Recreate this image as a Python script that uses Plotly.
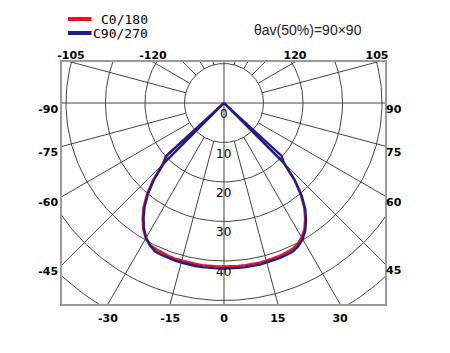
import numpy as np
import plotly.graph_objects as go

# ---------------- data ----------------
gamma = [0, 2.5, 5, 7.5, 10, 12.5, 15, 17.5, 20, 22.5, 25, 27.5, 30,
         32.5, 35, 37.5, 40, 42.5, 45, 47.5, 50]
# C0/180 plane (red): C0 drawn on the right, C180 on the left
c0 = [41.4, 41.4, 41.4, 41.4, 41.4, 41.4, 41.3, 41.3, 41.2, 41.0, 40.8, 40.3, 39.3,
      37.9, 35.8, 33.4, 30.2, 26.3, 21.2, 0.0, 0.0]
c180 = [41.4, 41.4, 41.4, 41.4, 41.4, 41.4, 41.3, 41.3, 41.2, 41.0, 40.8, 40.5, 39.6,
        38.0, 35.9, 33.5, 30.4, 26.7, 22.0, 20.0, 0.0]
# C90/270 plane (blue): C90 on the right, C270 on the left
c90 = [41.9, 41.9, 41.9, 41.9, 41.9, 41.9, 41.8, 41.8, 41.7, 41.6, 41.4, 40.8, 39.8,
       38.3, 36.2, 33.8, 30.6, 26.6, 21.5, 0.0, 0.0]
c270 = [41.9, 41.9, 41.9, 41.9, 41.9, 41.9, 41.8, 41.8, 41.7, 41.6, 41.4, 40.6, 39.4,
        37.7, 35.5, 33.0, 29.9, 26.2, 21.5, 0.0, 0.0]
# second blue cut-off edge near the apex (both sides)
edge_gamma = [45, 47.5, 50]
edge_r = [21.5, 19.8, 0.0]

ring_values = [10, 20, 30, 40, 50, 60, 70]
ring_label_values = [0, 10, 20, 30, 40]
spoke_angles = list(range(0, 360, 15))
bottom_ticks = [-30, -15, 0, 15, 30]
left_ticks = [-90, -75, -60, -45]
right_ticks = [90, 75, 60, 45]
top_ticks = [-105, -120, 120, 105]

series_names = ["C0/180", "C90/270"]
note_text = "θav(50%)=90×90"

# ---------------- style / layout ----------------
W, H = 450, 353
ML, MR, MT, MB = 62, 65, 62, 49
XMIN, XMAX = -41.01, 40.76
YMIN, YMAX = -50.89, 10.38
RED = "#ee1122"
BLUE = "#1f1d8c"
GRID = "#444444"
FRAME = "#9a9a9a"


def pol(g, r):
    g = np.radians(np.asarray(g, dtype=float))
    r = np.asarray(r, dtype=float)
    return r * np.sin(g), -r * np.cos(g)


def curve(g, left_vals, right_vals):
    g_left = [-a for a in g][::-1]
    r_left = list(left_vals)[::-1]
    return pol(g_left + list(g), r_left + list(right_vals))


fig = go.Figure()

# rings
t = np.linspace(0, 2 * np.pi, 361)
rx, ry = [], []
for r in ring_values:
    rx += list(r * np.cos(t)) + [None]
    ry += list(r * np.sin(t)) + [None]
fig.add_trace(go.Scatter(x=rx, y=ry, mode="lines", line=dict(color=GRID, width=1),
                         hoverinfo="skip", showlegend=False))

# spokes
sx, sy = [], []
for a in spoke_angles:
    r0 = 0 if a % 90 == 0 else ring_values[0]
    x0, y0 = pol(a, r0)
    x1, y1 = pol(a, 90)
    sx += [float(x0), float(x1), None]
    sy += [float(y0), float(y1), None]
fig.add_trace(go.Scatter(x=sx, y=sy, mode="lines", line=dict(color=GRID, width=1),
                         hoverinfo="skip", showlegend=False))

# curves
xr, yr = curve(gamma, c180, c0)
fig.add_trace(go.Scatter(x=xr, y=yr, mode="lines", name=series_names[0],
                         line=dict(color=RED, width=2.4), showlegend=False))
xb, yb = curve(gamma, c270, c90)
fig.add_trace(go.Scatter(x=xb, y=yb, mode="lines", name=series_names[1],
                         line=dict(color=BLUE, width=2.4), showlegend=False))
ex, ey = curve(edge_gamma, edge_r, edge_r)
ex = list(ex[:len(edge_gamma)]) + [None] + list(ex[len(edge_gamma):])
ey = list(ey[:len(edge_gamma)]) + [None] + list(ey[len(edge_gamma):])
fig.add_trace(go.Scatter(x=ex, y=ey, mode="lines", name=series_names[1],
                         line=dict(color=BLUE, width=2.2), showlegend=False))

# dummy for overlay axes
fig.add_trace(go.Scatter(x=[None], y=[None], xaxis="x2", yaxis="y2",
                         showlegend=False, hoverinfo="skip"))

# ring labels just below each ring on the nadir line
lx, ly = pol([0] * len(ring_label_values), ring_label_values)
for v, xx, yy in zip(ring_label_values, lx, ly):
    fig.add_annotation(text=str(v), x=float(xx), y=float(yy), xref="x", yref="y",
                       xanchor="center", yanchor="middle", yshift=-11, showarrow=False,
                       font=dict(family="DejaVu Sans", size=12, color="black"))

# tick positions where spokes meet the frame
bt = [-YMIN * np.tan(np.radians(a)) for a in bottom_ticks]
lt = [-XMIN * np.cos(np.radians(a)) / np.sin(np.radians(a)) for a in left_ticks]
rt = [-XMAX * np.cos(np.radians(a)) / np.sin(np.radians(a)) for a in right_ticks]
tt = [-YMAX * np.tan(np.radians(a)) for a in top_ticks]

tickfont = dict(family="DejaVu Sans", size=11, color="black", weight="bold")

fig.update_layout(
    width=W, height=H,
    margin=dict(l=ML, r=MR, t=MT, b=MB),
    paper_bgcolor="white", plot_bgcolor="white",
    showlegend=False,
    xaxis=dict(range=[XMIN, XMAX], showgrid=False, zeroline=False,
               tickmode="array", tickvals=bt, ticktext=[str(a) for a in bottom_ticks],
               ticks="", tickfont=tickfont, showline=True, mirror=True,
               linecolor=FRAME, linewidth=1.5, ticklabelstandoff=3, fixedrange=True),
    yaxis=dict(range=[YMIN, YMAX], showgrid=False, zeroline=False,
               tickmode="array", tickvals=lt, ticktext=[str(a) for a in left_ticks],
               ticks="", tickfont=tickfont, showline=True, mirror=True,
               linecolor=FRAME, linewidth=1.5, ticklabelshift=6, fixedrange=True),
    xaxis2=dict(range=[XMIN, XMAX], overlaying="x", side="top", anchor="y",
                showgrid=False, zeroline=False, showline=False,
                tickmode="array", tickvals=tt, ticktext=[str(a) for a in top_ticks],
                ticks="", tickfont=tickfont, fixedrange=True),
    yaxis2=dict(range=[YMIN, YMAX], overlaying="y", side="right", anchor="x",
                showgrid=False, zeroline=False, showline=False,
                tickmode="array", tickvals=rt, ticktext=[str(a) for a in right_ticks],
                ticks="", tickfont=tickfont, ticklabelshift=6, fixedrange=True),
)


def px_x(p):
    return (p - ML) / (W - ML - MR)


def px_y(p):
    return (H - MB - p) / (H - MT - MB)


# legend keys and labels
for color, ypx, name in [(RED, 19, series_names[0]), (BLUE, 33, series_names[1])]:
    fig.add_shape(type="line", xref="paper", yref="paper",
                  x0=px_x(68), x1=px_x(91.5), y0=px_y(ypx), y1=px_y(ypx),
                  line=dict(color=color, width=4))
    fig.add_annotation(text=name, xref="paper", yref="paper", x=px_x(150), y=px_y(ypx),
                       xanchor="right", yanchor="middle", showarrow=False,
                       font=dict(family="DejaVu Sans Mono", size=13, color="black"))

fig.add_annotation(text=note_text, xref="paper", yref="paper", x=px_x(308), y=px_y(30),
                   xanchor="center", yanchor="middle", showarrow=False,
                   font=dict(family="Liberation Sans", size=14, color="#222"))

fig.write_html("out.html")
